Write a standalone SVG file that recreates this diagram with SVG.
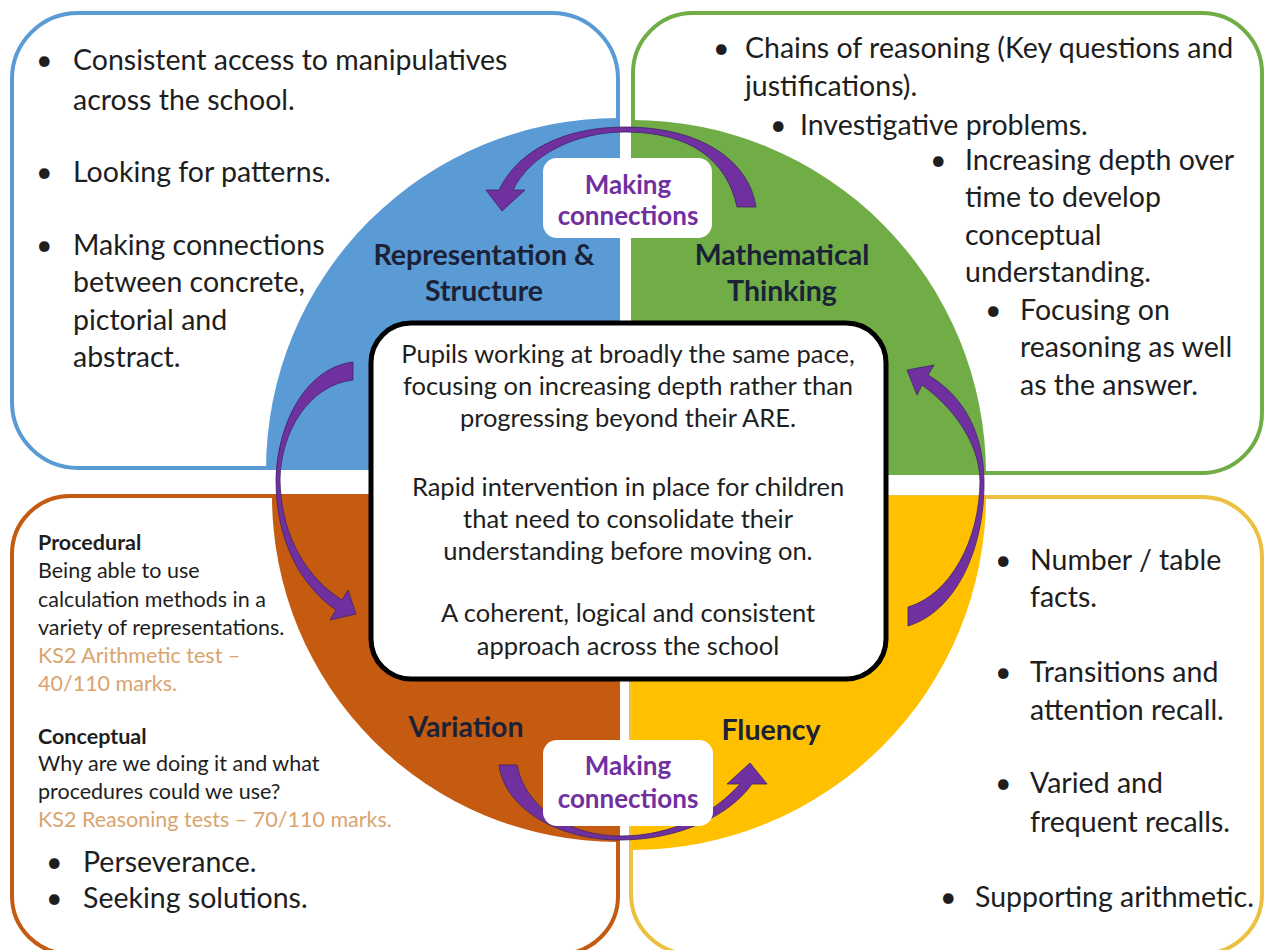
<svg xmlns="http://www.w3.org/2000/svg" width="1267" height="950" viewBox="0 0 1267 950">
  <style>
    .t { font-family: Lato, "Open Sans", "Liberation Sans", sans-serif; fill: #1e1e1e; }
    .big { font-size: 28.5px; }
    .ctr { font-size: 25.5px; text-anchor: middle; }
    .sm { font-size: 21.5px; }
    .b { font-weight: bold; }
    .tan { fill: #d9a46e; }
    .lbl { font-family: Lato, "Open Sans", "Liberation Sans", sans-serif; font-weight: bold; font-size: 28.5px; fill: #1b2238; text-anchor: middle; }
    .mc { font-family: Lato, "Open Sans", "Liberation Sans", sans-serif; font-weight: bold; font-size: 26px; fill: #7030a0; text-anchor: middle; }
    .box { fill: #ffffff; stroke-width: 4; }
    .arrow { fill: #7030a0; stroke: #3d2466; stroke-width: 0.8; stroke-linejoin: round; }
  </style>
  <rect width="1267" height="950" fill="#ffffff"/>

  <!-- Representation & Structure -->
  <g id="node-representation">
    <rect class="box" x="12" y="13" width="606" height="455" rx="66" stroke="#5b9bd5"/>
    <path d="M618,470 L266,470 A352,352 0 0 1 618,118 Z" fill="#5b9bd5"/>
    <g class="t big">
      <text x="36" y="70">•</text><text x="73" y="70">Consistent access to manipulatives</text>
      <text x="73" y="110">across the school.</text>
      <text x="36" y="182">•</text><text x="73" y="182">Looking for patterns.</text>
      <text x="36" y="255">•</text><text x="73" y="255">Making connections</text>
      <text x="73" y="292">between concrete,</text>
      <text x="73" y="330">pictorial and</text>
      <text x="73" y="367">abstract.</text>
    </g>
    <text class="lbl" x="484" y="265">Representation &amp;</text>
    <text class="lbl" x="484" y="301">Structure</text>
  </g>

  <!-- Mathematical Thinking -->
  <g id="node-mathematical-thinking">
    <rect class="box" x="633" y="13" width="629" height="460" rx="60" stroke="#70ad47"/>
    <path d="M632,474 L632,120 A354,354 0 0 1 986,474 Z" fill="#70ad47"/>
    <g class="t big">
      <text x="713" y="58">•</text><text x="745" y="58">Chains of reasoning (Key questions and</text>
      <text x="745" y="96">justifications).</text>
      <text x="770" y="135">•</text><text x="800" y="135">Investigative problems.</text>
      <text x="930" y="170">•</text><text x="965" y="170">Increasing depth over</text>
      <text x="965" y="207">time to develop</text>
      <text x="965" y="245">conceptual</text>
      <text x="965" y="282">understanding.</text>
      <text x="985" y="320">•</text><text x="1020" y="320">Focusing on</text>
      <text x="1020" y="357">reasoning as well</text>
      <text x="1020" y="395">as the answer.</text>
    </g>
    <text class="lbl" x="782" y="265">Mathematical</text>
    <text class="lbl" x="782" y="301">Thinking</text>
  </g>

  <!-- Variation -->
  <g id="node-variation">
    <rect class="box" x="12" y="496" width="606" height="458" rx="58" stroke="#c55a11"/>
    <path d="M618,496 L618,842 A346,346 0 0 1 272,496 Z" fill="#c55a11"/>
    <g class="t sm">
      <text class="b" x="38" y="550">Procedural</text>
      <text x="38" y="578">Being able to use</text>
      <text x="38" y="607">calculation methods in a</text>
      <text x="38" y="635">variety of representations.</text>
      <text class="tan" x="38" y="663">KS2 Arithmetic test –</text>
      <text class="tan" x="38" y="691">40/110 marks.</text>
      <text class="b" x="38" y="744">Conceptual</text>
      <text x="38" y="771">Why are we doing it and what</text>
      <text x="38" y="799">procedures could we use?</text>
      <text class="tan" x="38" y="827">KS2 Reasoning tests – 70/110 marks.</text>
    </g>
    <g class="t big">
      <text x="46" y="872">•</text><text x="83" y="872">Perseverance.</text>
      <text x="46" y="908">•</text><text x="83" y="908">Seeking solutions.</text>
    </g>
    <text class="lbl" x="466" y="737">Variation</text>
  </g>

  <!-- Fluency -->
  <g id="node-fluency">
    <rect class="box" x="631" y="497" width="631" height="457" rx="60" stroke="#ecc040"/>
    <path d="M632,496 L986,496 A354,354 0 0 1 632,850 Z" fill="#ffc000"/>
    <g class="t big">
      <text x="995" y="570">•</text><text x="1030" y="570">Number / table</text>
      <text x="1030" y="607">facts.</text>
      <text x="995" y="682">•</text><text x="1030" y="682">Transitions and</text>
      <text x="1030" y="720">attention recall.</text>
      <text x="995" y="793">•</text><text x="1030" y="793">Varied and</text>
      <text x="1030" y="832">frequent recalls.</text>
      <text x="940" y="907">•</text><text x="975" y="907">Supporting arithmetic.</text>
    </g>
    <text class="lbl" x="771" y="740">Fluency</text>
  </g>

  <!-- Connectors: curved arrows round the circle -->
  <g id="connectors">
    <path class="arrow" d="M756,207 C749,160 700,127 625,127 C565,127 518,150 499,190 L486,190 L502,211 L525,190 L513,190 C530,155 575,132 625,132 C690,132 727,160 737,207 Z"/>
    <path class="arrow" d="M353,362 C305,368 277,425 276,480 C276,540 300,585 336,610 L330,620 L356,614 L348,590 L342,600 C310,580 281,540 280,480 C281,430 310,385 353,380 Z"/>
    <path class="arrow" d="M499,765 C505,810 560,840 620,840 C680,840 730,815 752,784 L767,784 L750,763 L727,784 L740,784 C715,812 675,836 620,836 C570,836 525,808 517,765 Z"/>
    <path class="arrow" d="M908,626 C955,612 985,550 984,480 C983,430 962,395 928,375 L934,365 L907,370 L917,395 L922,385 C950,405 979,440 980,480 C980,540 950,595 908,607 Z"/>
  </g>

  <!-- Making connections labels -->
  <g id="node-making-connections-top">
    <rect x="543" y="158" width="169" height="80" rx="14" fill="#ffffff"/>
    <text class="mc" x="628" y="194">Making</text>
    <text class="mc" x="628" y="225">connections</text>
  </g>
  <g id="node-making-connections-bottom">
    <rect x="543" y="740" width="170" height="86" rx="14" fill="#ffffff"/>
    <text class="mc" x="628" y="775">Making</text>
    <text class="mc" x="628" y="808">connections</text>
  </g>

  <!-- Central statement -->
  <g id="node-centre">
    <rect x="371" y="323" width="515" height="356" rx="40" fill="#ffffff" stroke="#000000" stroke-width="5"/>
    <g class="t ctr">
      <text x="628" y="363">Pupils working at broadly the same pace,</text>
      <text x="628" y="395">focusing on increasing depth rather than</text>
      <text x="628" y="427">progressing beyond their ARE.</text>
      <text x="628" y="496">Rapid intervention in place for children</text>
      <text x="628" y="528">that need to consolidate their</text>
      <text x="628" y="560">understanding before moving on.</text>
      <text x="628" y="622">A coherent, logical and consistent</text>
      <text x="628" y="655">approach across the school</text>
    </g>
  </g>
</svg>
